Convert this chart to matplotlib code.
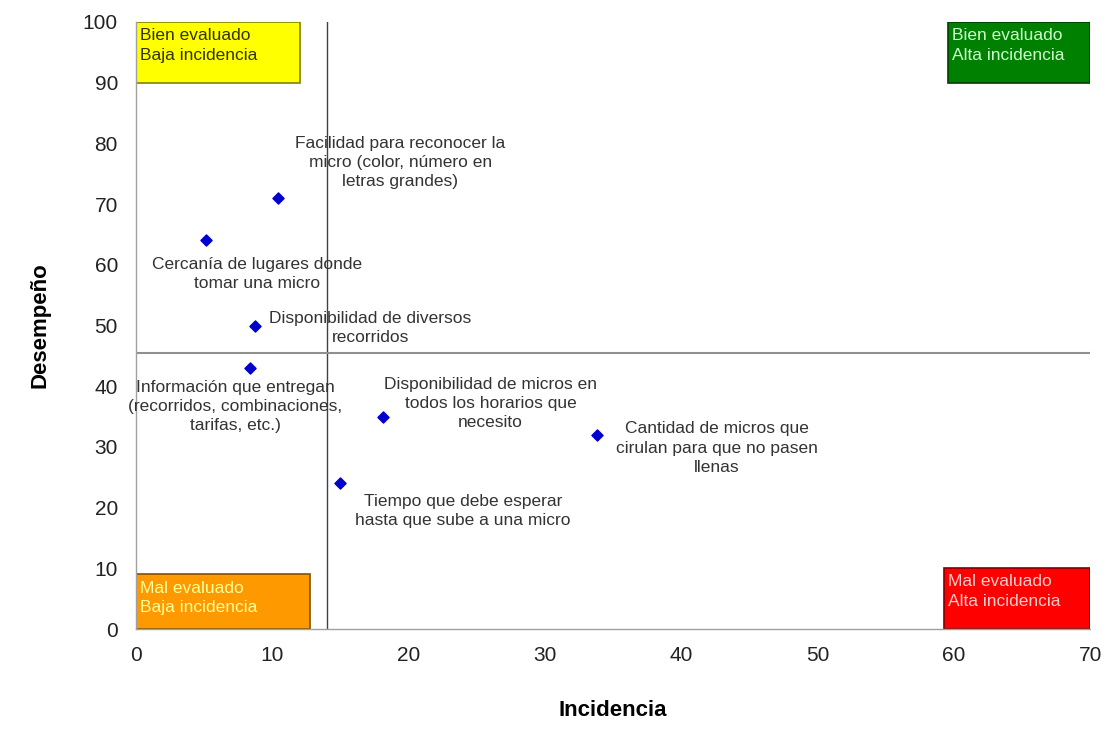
import matplotlib.pyplot as plt
from matplotlib.patches import Rectangle

plt.rcParams["font.family"] = ["Liberation Sans", "DejaVu Sans"]

# Atributos evaluados: incidencia vs desempeño
incidencia = [5.1, 10.4, 8.7, 8.4, 18.1, 15.0, 33.8]
desempeno = [64.1, 71.0, 49.9, 43.0, 34.9, 24.0, 32.0]
etiquetas = [
    "Cercanía de lugares donde\ntomar una micro",
    "Facilidad para reconocer la\nmicro (color, número en\nletras grandes)",
    "Disponibilidad de diversos\nrecorridos",
    "Información que entregan\n(recorridos, combinaciones,\ntarifas, etc.)",
    "Disponibilidad de micros en\ntodos los horarios que\nnecesito",
    "Tiempo que debe esperar\nhasta que sube a una micro",
    "Cantidad de micros que\ncirulan para que no pasen\nllenas",
]
# centro de cada etiqueta
etiqueta_x = [8.9, 19.4, 17.2, 7.3, 26.0, 24.0, 42.6]
etiqueta_y = [58.5, 76.8, 49.6, 36.7, 37.2, 19.4, 29.8]

# lineas de corte de los cuadrantes
corte_x = 14
corte_y = 45.5

# cuadrantes: (x0, y0, ancho, alto, texto, fondo, borde, color texto)
cuadrantes = [
    (0, 90, 12.0, 10, "Bien evaluado\nBaja incidencia", "#ffff00", "#808000", "#333300"),
    (59.6, 90, 10.4, 10, "Bien evaluado\nAlta incidencia", "#008000", "#004000", "#ccffcc"),
    (0, 0, 12.8, 9, "Mal evaluado\nBaja incidencia", "#ff9900", "#805000", "#ffff99"),
    (59.3, 0, 10.7, 10, "Mal evaluado\nAlta incidencia", "#ff0000", "#800000", "#ffcccc"),
]

fig = plt.figure(figsize=(11.12, 7.29), dpi=100)
ax = fig.add_axes([0.1223, 0.137, 0.858, 0.833])

ax.set_xlim(0, 70)
ax.set_ylim(0, 100)
ax.set_xticks(range(0, 71, 10))
ax.set_yticks(range(0, 101, 10))
ax.tick_params(axis="both", length=0, labelsize=15, colors="#222222")
ax.tick_params(axis="x", pad=12)
ax.tick_params(axis="y", pad=13)

for side in ["top", "right"]:
    ax.spines[side].set_visible(False)
for side in ["left", "bottom"]:
    ax.spines[side].set_color("#a0a0a0")
    ax.spines[side].set_linewidth(1.0)

ax.axvline(corte_x, color="#404040", linewidth=1.0, zorder=1)
ax.axhline(corte_y, color="#909090", linewidth=1.5, zorder=1)

for x0, y0, w, h, txt, fc, ec, tc in cuadrantes:
    ax.add_patch(Rectangle((x0, y0), w, h, facecolor=fc, edgecolor=ec,
                           linewidth=1.2, zorder=2))
    ax.text(x0 + 0.3, y0 + h - 1.0, txt, ha="left", va="top", fontsize=12.5,
            color=tc, linespacing=1.4, zorder=3)

ax.scatter(incidencia, desempeno, marker="D", s=32, color="#0000cc", zorder=4)

for tx, ty, lab in zip(etiqueta_x, etiqueta_y, etiquetas):
    ax.text(tx, ty, lab, ha="center", va="center", fontsize=12.5,
            color="#333333", linespacing=1.35, zorder=3)

ax.set_xlabel("Incidencia", fontsize=16, fontweight="bold", labelpad=25)
ax.set_ylabel("Desempeño", fontsize=16, fontweight="bold", labelpad=23)

fig.savefig("out.png", dpi=100)
